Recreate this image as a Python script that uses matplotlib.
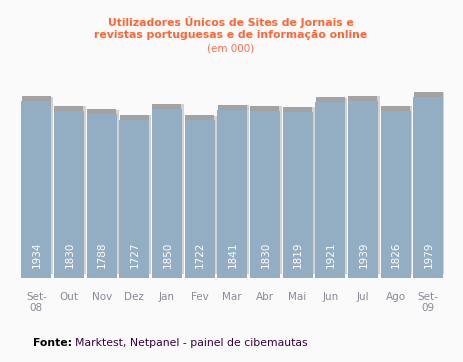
import matplotlib
matplotlib.use("Agg")
import matplotlib.pyplot as plt
import numpy as np

months = ["Set-\n08", "Out", "Nov", "Dez", "Jan", "Fev", "Mar", "Abr", "Mai", "Jun", "Jul", "Ago", "Set-\n09"]
values = [1934, 1830, 1788, 1727, 1850, 1722, 1841, 1830, 1819, 1921, 1939, 1826, 1979]

W, H = 464, 362
fig = plt.figure(figsize=(W / 100, H / 100), dpi=100)
fig.patch.set_facecolor("#fafafa")

left, right, bottom, top = 20, 444.5, 277.5, 60
scale = 0.0912  # px per unit
ax = fig.add_axes([left / W, (H - bottom) / H, (right - left) / W, (bottom - top) / H])
ax.set_facecolor("#fafafa")
ymax = (bottom - top) / scale
ax.set_xlim(-0.5, len(values) - 0.5)
ax.set_ylim(0, ymax)

x = np.arange(len(values))
bw = 0.918
cap = 5 / scale
# right shadow
ax.bar(x + 0.06, [v + cap * 0.2 for v in values], bottom=3.5 / scale, width=bw,
       color="#d2d2d2", zorder=1)
# gray cap
ax.bar(x, [cap] * len(values), bottom=values, width=bw - 0.03, color="#a3a3a3", zorder=2)
# main bars
ax.bar(x, values, width=bw, color="#93adc3", zorder=3)

for xi, v in zip(x, values):
    ax.text(xi + 0.02, 9 / scale, str(v), rotation=90, ha="center", va="bottom",
            color="white", fontsize=7.5, zorder=4)

for s in ax.spines.values():
    s.set_visible(False)
ax.set_yticks([])
ax.set_xticks(x)
ax.set_xticklabels(months, fontsize=7.5, color="#8a8a9a", linespacing=1.15)
ax.tick_params(axis="x", length=0, pad=10.5)

fig.text(231 / W, 1 - 22 / H, "Utilizadores Únicos de Sites de Jornais e",
         ha="center", va="center", fontsize=7.8, fontweight="bold", color="#ff6633")
fig.text(231 / W, 1 - 35 / H, "revistas portuguesas e de informação online",
         ha="center", va="center", fontsize=7.8, fontweight="bold", color="#ff6633")
fig.text(231 / W, 1 - 48.5 / H, "(em 000)", ha="center", va="center", fontsize=7.5, color="#ff7050")

t = fig.text(33 / W, 1 - 343 / H, "Fonte:", ha="left", va="center", fontsize=7.8,
             fontweight="bold", color="black")
fig.canvas.draw()
bb = t.get_window_extent()
fig.text((bb.x1 + 3) / W, 1 - 343 / H, "Marktest, Netpanel - painel de cibemautas", ha="left",
         va="center", fontsize=7.8, color="#3a0040")

fig.savefig("out.png", dpi=100, facecolor=fig.get_facecolor())
